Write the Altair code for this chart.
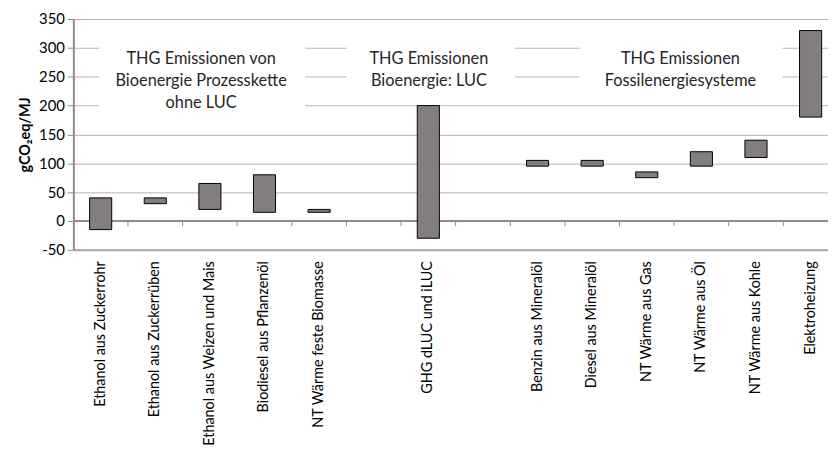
import altair as alt
import pandas as pd

# ---- data ----
categories = [
    "Ethanol aus Zuckerrohr", "Ethanol aus Zuckerrüben", "Ethanol aus Weizen und Mais",
    "Biodiesel aus Pflanzenöl", "NT Wärme feste Biomasse", " ", "GHG dLUC und iLUC", "  ",
    "Benzin aus Mineralöl", "Diesel aus Mineralöl", "NT Wärme aus Gas", "NT Wärme aus Öl",
    "NT Wärme aus Kohle", "Elektroheizung",
]
bar_categories = [
    "Ethanol aus Zuckerrohr", "Ethanol aus Zuckerrüben", "Ethanol aus Weizen und Mais",
    "Biodiesel aus Pflanzenöl", "NT Wärme feste Biomasse", "GHG dLUC und iLUC",
    "Benzin aus Mineralöl", "Diesel aus Mineralöl", "NT Wärme aus Gas", "NT Wärme aus Öl",
    "NT Wärme aus Kohle", "Elektroheizung",
]
low_values = [-15, 30, 20, 15, 15, -30, 95, 95, 75, 95, 110, 180]
high_values = [40, 40, 65, 80, 20, 200, 105, 105, 85, 120, 140, 330]
y_ticks = [-50, 0, 50, 100, 150, 200, 250, 300, 350]
annotations = [
    "THG Emissionen von\nBioenergie Prozesskette\nohne LUC",
    "THG Emissionen\nBioenergie: LUC",
    "THG Emissionen\nFossilenergiesysteme",
]

FONT = "Lato"
W, H = 762, 233

bars_df = pd.DataFrame({"cat": bar_categories, "low": low_values, "high": high_values})
ticks_df = pd.DataFrame({"cat": categories[1:], "y0": [0] * 13, "y1": [-9] * 13})

x_scale = alt.Scale(domain=categories, range=[0, 772], paddingInner=0, paddingOuter=0)
y_scale = alt.Scale(domain=[-50, 350], nice=False, zero=False)

x_axis = alt.Axis(
    orient="bottom", labelAngle=-90, ticks=False, domain=True, domainColor="#A6A6A6",
    domainWidth=2, grid=False, labelFont=FONT, labelFontSize=14.5, labelColor="#000000",
    labelPadding=11, title=None, labelOverlap=False, labelLimit=400,
)
y_axis = alt.Axis(
    values=y_ticks, grid=True, gridColor="#B4B4B4", gridWidth=1, domainColor="#8C8C8C",
    domainWidth=2, tickColor="#8C8C8C", tickSize=6, labelFont=FONT, labelFontSize=15,
    labelColor="#000000", labelPadding=3, labelExpr="'' + datum.value",
    title="gCO₂eq/MJ", titleFont=FONT,
    titleFontWeight="bold", titleFontSize=14.5, titleColor="#000000", titlePadding=6,
)


def Y(field):
    return alt.Y(field, scale=y_scale, axis=y_axis)


def X(field, **kw):
    return alt.X(field, scale=x_scale, axis=x_axis, sort=categories, **kw)


bars = alt.Chart(bars_df).mark_bar(
    width=alt.RelativeBandSize(0.405), color="#847D7E", stroke="#000000", strokeWidth=1
).encode(x=X("cat:N"), y=Y("low:Q"), y2="high:Q")

zero_line = alt.Chart(pd.DataFrame({"z": [0]})).mark_rule(color="#8C8C8C", strokeWidth=2).encode(
    y=Y("z:Q")
)

cat_ticks = alt.Chart(ticks_df).mark_rule(color="#8C8C8C", strokeWidth=1).encode(
    x=X("cat:N", bandPosition=0), y=Y("y0:Q"), y2="y1:Q",
)

# white annotation boxes (hide gridlines behind texts) and the texts
box_specs = [(26, 234, 190, 322, 129), (276, 446, 215, 322, 359), (511, 716, 215, 322, 613)]
layers = [zero_line, cat_ticks]
for (bx0, bx1, by0, by1, tx), label in zip(box_specs, annotations):
    d = pd.DataFrame({"y0": [by0], "y1": [by1], "ty": [294]})
    layers.append(
        alt.Chart(d).mark_rect(color="white").encode(
            x=alt.value(bx0), x2=alt.value(bx1), y=Y("y0:Q"), y2="y1:Q",
        )
    )
    layers.append(
        alt.Chart(d).mark_text(
            text=label.split("\n"), align="center", baseline="top", font=FONT,
            fontSize=16.5, lineHeight=22, color="#262626",
        ).encode(x=alt.value(tx), y=Y("ty:Q"))
    )

chart = alt.layer(*layers[:1], bars, *layers[1:]).properties(
    width=W, height=H,
    autosize=alt.AutoSizeParams(type="none"),
    padding={"left": 66, "top": 9, "right": 0, "bottom": 200},
    background="white",
).configure_view(stroke=None)

chart.save("out.html", embed_options={"renderer": "svg", "actions": False})
